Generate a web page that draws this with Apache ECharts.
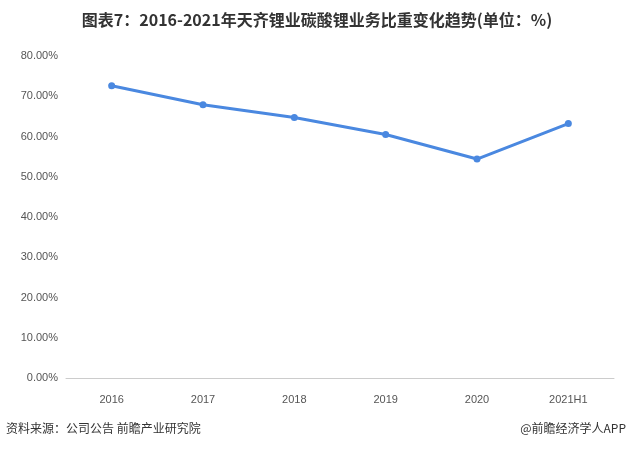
<!DOCTYPE html>
<html><head><meta charset="utf-8">
<script src="https://cdn.jsdelivr.net/npm/echarts@6/dist/echarts.min.js"></script>
<style>html,body{margin:0;padding:0;background:#fff}#chart{width:634px;height:451px}</style>
</head><body><div id="chart"></div>
<script>
let years = ['2016', '2017', '2018', '2019', '2020', '2021H1'];
let shares = [72.6, 67.9, 64.7, 60.5, 54.4, 63.2];
let yTicks = [0, 10, 20, 30, 40, 50, 60, 70, 80];

let myChart = echarts.init(document.getElementById('chart'));
let font = '"Noto Sans CJK SC", sans-serif';
let option = {
    title: {
        left: 'center', top: 7,
        text: '图表7：2016-2021年天齐锂业碳酸锂业务比重变化趋势(单位：%)',
        textStyle: {fontSize: 16, fontWeight: 'bold', color: '#333', fontFamily: font}
    },
    graphic: [
        {type: 'text', left: 6, top: 422, style: {text: '资料来源：公司公告 前瞻产业研究院', fontSize: 12, fill: '#333', fontFamily: font}},
        {type: 'text', right: 8, top: 422, style: {text: '@前瞻经济学人APP', fontSize: 12, fill: '#333', fontFamily: font}}
    ],
    grid: {left: 66, right: 20, top: 56, bottom: 73},
    xAxis: {
        type: 'category', data: years,
        axisLine: {lineStyle: {color: '#ccc'}},
        axisTick: {show: false},
        axisLabel: {color: '#555', fontSize: 11, margin: 16}
    },
    yAxis: {
        type: 'value', min: yTicks[0], max: yTicks[yTicks.length - 1], interval: 10,
        splitLine: {show: false},
        axisLine: {show: false}, axisTick: {show: false},
        axisLabel: {color: '#555', fontSize: 11, formatter: v => v.toFixed(2) + '%'}
    },
    series: [{
        type: 'line', data: shares,
        symbol: 'circle', symbolSize: 7,
        lineStyle: {color: '#4a88e0', width: 3},
        itemStyle: {color: '#4a88e0'}
    }]
};
myChart.setOption(option);
</script></body></html>
